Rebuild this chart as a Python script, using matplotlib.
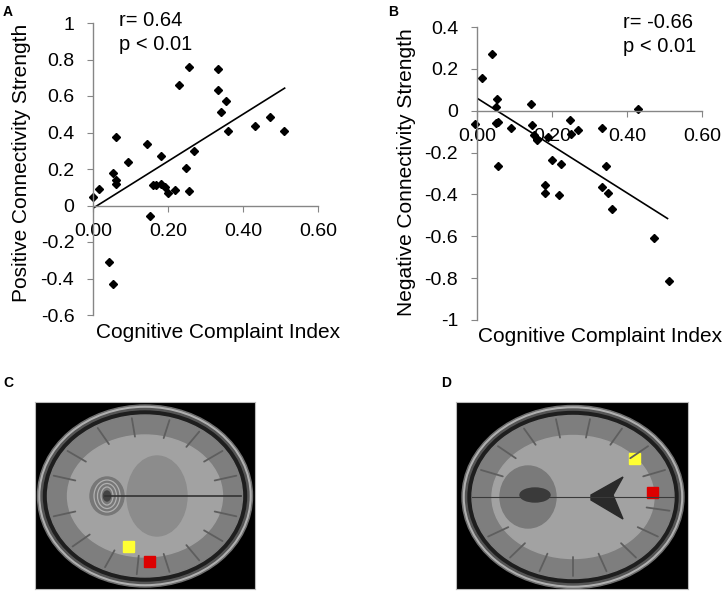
import matplotlib
matplotlib.use('Agg')
import numpy as np
import matplotlib.pyplot as plt
from matplotlib.patches import Ellipse, Rectangle, Polygon

plt.rcParams['font.family'] = ['Liberation Sans', 'DejaVu Sans']

# Panel A: CCI vs positive connectivity strength
cci_a = [0.00, 0.015, 0.052, 0.062, 0.062, 0.062, 0.093, 0.145, 0.151, 0.043, 0.053,
         0.160, 0.169, 0.182, 0.182, 0.193, 0.200, 0.218, 0.229, 0.247, 0.256, 0.256,
         0.269, 0.333, 0.333, 0.342, 0.354, 0.360, 0.431, 0.473, 0.508]
pos_a = [0.046, 0.091, 0.177, 0.378, 0.137, 0.117, 0.236, 0.338, -0.06, -0.307, -0.43,
         0.113, 0.113, 0.269, 0.117, 0.104, 0.068, 0.086, 0.662, 0.205, 0.757, 0.082,
         0.300, 0.750, 0.634, 0.510, 0.570, 0.410, 0.433, 0.483, 0.410]
fit_a_x = [0.0, 0.511]
fit_a_y = [-0.015, 0.643]

# Panel B: CCI vs negative connectivity strength
cci_b = [-0.006, 0.014, 0.041, 0.054, 0.052, 0.050, 0.056, 0.056, 0.092, 0.145, 0.147,
         0.152, 0.159, 0.161, 0.190, 0.199, 0.181, 0.181, 0.219, 0.225, 0.248, 0.250,
         0.270, 0.332, 0.332, 0.344, 0.348, 0.359, 0.430, 0.473, 0.511]
neg_b = [-0.065, 0.156, 0.269, 0.057, 0.017, -0.059, -0.054, -0.266, -0.083, 0.033, -0.067,
         -0.118, -0.134, -0.142, -0.126, -0.234, -0.356, -0.393, -0.404, -0.256, -0.043, -0.110,
         -0.091, -0.081, -0.364, -0.264, -0.391, -0.472, 0.010, -0.606, -0.815]
fit_b_x = [0.0, 0.508]
fit_b_y = [0.060, -0.515]

x_ticks = [0.0, 0.2, 0.4, 0.6]
x_ticklabels = ['0.00', '0.20', '0.40', '0.60']
y_ticks_a = [-0.6, -0.4, -0.2, 0, 0.2, 0.4, 0.6, 0.8, 1.0]
y_ticklabels_a = ['-0.6', '-0.4', '-0.2', '0', '0.2', '0.4', '0.6', '0.8', '1']
y_ticks_b = [-1.0, -0.8, -0.6, -0.4, -0.2, 0, 0.2, 0.4]
y_ticklabels_b = ['-1', '-0.8', '-0.6', '-0.4', '-0.2', '0', '0.2', '0.4']

# ROI squares on the brain slices (image pixel coords)
roi_c = [(93, 144, '#ffff33'), (114, 159, '#dd0000')]
roi_d = [(178, 56, '#ffff33'), (196, 90, '#dd0000')]

# decorative sulci directions (degrees) on the slices
sulci_c = [15, 35, 55, 75, 95, 115, 140, 165, 195, 215, 240, 262, 285, 305, 325, 345]
sulci_d = [10, 30, 50, 70, 90, 110, 130, 150, 200, 220, 240, 260, 280, 300, 320, 340]

W, H = 724, 593
fig = plt.figure(figsize=(W / 100, H / 100), dpi=100)


def px_axes(x0, y0, x1, y1):
    return fig.add_axes([x0 / W, 1 - y1 / H, (x1 - x0) / W, (y1 - y0) / H])


def style_scatter(ax, yticks, ylabels, ylim):
    ax.set_xlim(0, 0.6)
    ax.set_ylim(*ylim)
    for s in ['top', 'right']:
        ax.spines[s].set_visible(False)
    ax.spines['bottom'].set_position(('data', 0))
    for s in ['left', 'bottom']:
        ax.spines[s].set_color('#868686')
        ax.spines[s].set_linewidth(1.0)
    ax.set_xticks(x_ticks)
    ax.set_xticklabels(x_ticklabels)
    ax.set_yticks(yticks)
    ax.set_yticklabels(ylabels)
    ax.tick_params(axis='x', direction='out', length=4.5, color='#868686', labelsize=14, pad=8)
    ax.tick_params(axis='y', direction='out', length=4.5, color='#868686', labelsize=14, pad=9)
    ax.patch.set_alpha(0)


# --- Panel A ---
axA = px_axes(93, 23, 318, 315)
style_scatter(axA, y_ticks_a, y_ticklabels_a, (-0.6, 1.0))
axA.plot(fit_a_x, fit_a_y, color='black', lw=1.2)
axA.plot(cci_a, pos_a, 'D', color='black', ms=4.5, clip_on=False)
fig.text(22 / W, 1 - 163 / H, 'Positive Connectivity Strength', fontsize=15,
         rotation=90, ha='center', va='center')
fig.text(96 / W, 1 - 333 / H, 'Cognitive Complaint Index', fontsize=15, va='center')
fig.text(119 / W, 1 - 21 / H, 'r= 0.64', fontsize=14.5, va='center')
fig.text(119 / W, 1 - 45 / H, 'p < 0.01', fontsize=14.5, va='center')
fig.text(3 / W, 1 - 12 / H, 'A', fontsize=10, fontweight='bold', va='center')

# --- Panel B ---
axB = px_axes(477, 27, 702, 320)
style_scatter(axB, y_ticks_b, y_ticklabels_b, (-1.0, 0.4))
axB.plot(fit_b_x, fit_b_y, color='black', lw=1.2)
axB.plot(cci_b, neg_b, 'D', color='black', ms=4.5, clip_on=False)
fig.text(407 / W, 1 - 172 / H, 'Negative Connectivity Strength', fontsize=15,
         rotation=90, ha='center', va='center')
fig.text(478 / W, 1 - 337 / H, 'Cognitive Complaint Index', fontsize=15, va='center')
fig.text(623 / W, 1 - 23 / H, 'r= -0.66', fontsize=14.5, va='center')
fig.text(623 / W, 1 - 47 / H, 'p < 0.01', fontsize=14.5, va='center')
fig.text(388 / W, 1 - 12 / H, 'B', fontsize=10, fontweight='bold', va='center')


def brain(ax, w, h, cx, cy, bw, bh, rois, sulci, kind):
    ax.set_xlim(0, w)
    ax.set_ylim(h, 0)
    ax.set_xticks([])
    ax.set_yticks([])
    ax.set_facecolor('black')
    for s in ax.spines.values():
        s.set_color('#bbbbbb')
        s.set_linewidth(0.8)
    ax.add_patch(Ellipse((cx, cy), bw, bh, color='#6e6e6e'))
    ax.add_patch(Ellipse((cx, cy), bw - 3, bh - 3, color='#b0b0b0'))
    ax.add_patch(Ellipse((cx, cy), bw - 7, bh - 7, color='#555555'))
    ax.add_patch(Ellipse((cx, cy), bw - 12, bh - 12, color='#1e1e1e'))
    ax.add_patch(Ellipse((cx, cy), bw - 20, bh - 20, color='#7e7e7e'))
    ax.add_patch(Ellipse((cx, cy), bw - 60, bh - 60, color='#a2a2a2'))
    # sulci
    for a in sulci:
        t = np.deg2rad(a)
        rx, ry = (bw - 20) / 2, (bh - 20) / 2
        ax.plot([cx + rx * 0.97 * np.cos(t), cx + rx * 0.74 * np.cos(t)],
                [cy + ry * 0.97 * np.sin(t), cy + ry * 0.74 * np.sin(t)],
                color='#5e5e5e', lw=1.3, solid_capstyle='round')
    if kind == 'C':
        ax.add_patch(Ellipse((cx + 12, cy), 60, 80, color='#8c8c8c'))
        ax.plot([cx - 40, cx + bw / 2 - 12], [cy, cy], color='#333333', lw=1.2)
        ax.add_patch(Ellipse((cx - 38, cy), 34, 38, color='#777777'))
        for r in [26, 19, 12]:
            ax.add_patch(Ellipse((cx - 38, cy), r, r + 6, fill=False, ec='#b0b0b0', lw=0.9))
        ax.add_patch(Ellipse((cx - 38, cy), 7, 10, color='#444444'))
    else:
        ax.plot([cx - bw / 2 + 10, cx + bw / 2 - 10], [cy, cy], color='#3a3a3a', lw=0.8)
        ax.add_patch(Ellipse((cx - 45, cy), 56, 62, color='#7a7a7a'))
        ax.add_patch(Ellipse((cx - 38, cy - 2), 30, 14, color='#3a3a3a'))
        ax.add_patch(Polygon([[cx + 18, cy - 2], [cx + 50, cy - 20], [cx + 40, cy - 2],
                              [cx + 50, cy + 22], [cx + 18, cy + 3]], color='#2a2a2a'))
    for x, y, c in rois:
        ax.add_patch(Rectangle((x - 5.5, y - 5.5), 11, 11, color=c))


# --- Panel C ---
axC = px_axes(35, 402, 255, 589)
brain(axC, 220, 187, 110, 94, 215, 182, roi_c, sulci_c, 'C')
fig.text(3 / W, 1 - 383 / H, 'C', fontsize=10, fontweight='bold', va='center')

# --- Panel D ---
axD = px_axes(456, 402, 688, 589)
brain(axD, 232, 187, 117, 95, 222, 183, roi_d, sulci_d, 'D')
fig.text(441 / W, 1 - 383 / H, 'D', fontsize=10, fontweight='bold', va='center')

fig.savefig('out.png', dpi=100, facecolor='white')
plt.close(fig)
